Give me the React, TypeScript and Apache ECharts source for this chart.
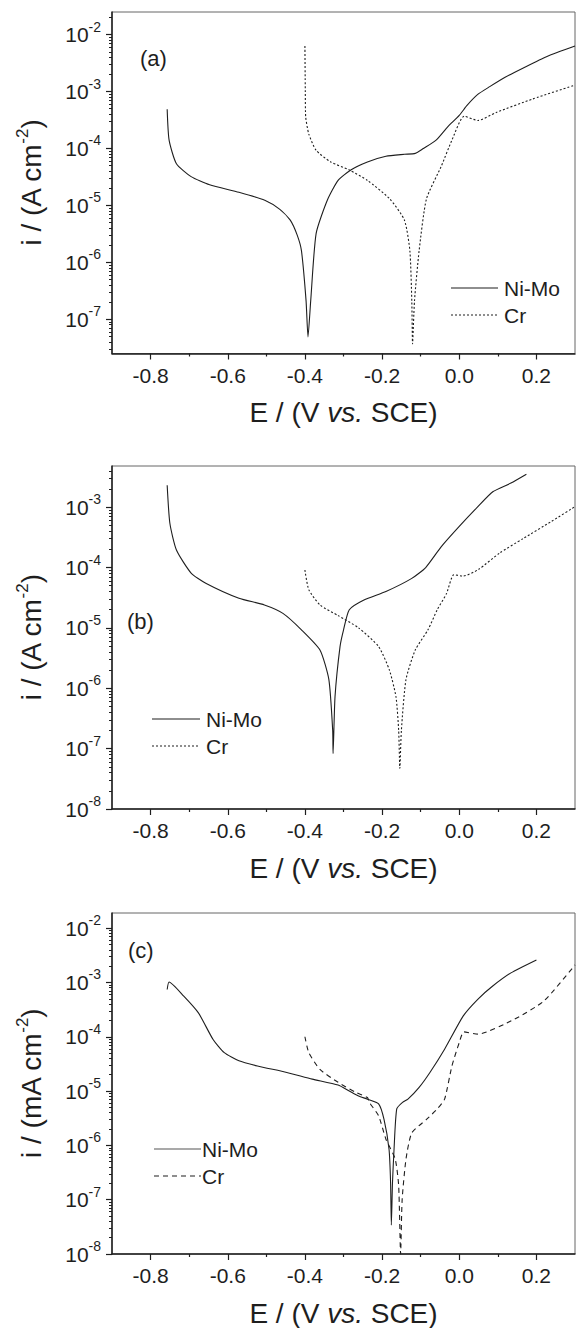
import React, { useEffect, useRef } from "react";
import * as echarts from "echarts";

// ---------- data (E in V vs SCE, i in A cm^-2 or mA cm^-2) ----------
const aNiMoE = [-0.757, -0.752, -0.733, -0.695, -0.647, -0.571, -0.504, -0.465, -0.438, -0.42, -0.409, -0.397, -0.392, -0.385, -0.371, -0.342, -0.314, -0.281, -0.238, -0.19, -0.142, -0.114, -0.093, -0.06, -0.03, 0.0, 0.019, 0.048, 0.079, 0.12, 0.166, 0.226, 0.3];
const aNiMoI = [4.9e-4, 1.4e-4, 5.4e-5, 3.2e-5, 2.3e-5, 1.7e-5, 1.23e-5, 8.5e-6, 5.5e-6, 3.0e-6, 1.6e-6, 2.1e-7, 4.9e-8, 2.1e-7, 3.2e-6, 1.23e-5, 2.75e-5, 4.2e-5, 5.8e-5, 7.3e-5, 7.9e-5, 8.2e-5, 1.0e-4, 1.4e-4, 2.4e-4, 3.8e-4, 5.6e-4, 8.9e-4, 1.22e-3, 1.8e-3, 2.6e-3, 4.1e-3, 6.3e-3];
const aCrE = [-0.4, -0.399, -0.398, -0.39, -0.371, -0.333, -0.285, -0.238, -0.18, -0.142, -0.128, -0.123, -0.121, -0.116, -0.104, -0.085, -0.047, -0.019, 0.013, 0.048, 0.096, 0.19, 0.3];
const aCrI = [6.3e-3, 1.0e-3, 3.6e-4, 1.8e-4, 9.3e-5, 5.8e-5, 4.2e-5, 2.75e-5, 1.3e-5, 5.5e-6, 1.6e-6, 2.1e-7, 3.7e-8, 2.1e-7, 1.6e-6, 1.3e-5, 4.8e-5, 1.4e-4, 3.7e-4, 3.1e-4, 4.3e-4, 7.4e-4, 1.3e-3];

const bNiMoE = [-0.757, -0.75, -0.733, -0.695, -0.657, -0.571, -0.505, -0.457, -0.409, -0.361, -0.338, -0.328, -0.327, -0.322, -0.309, -0.3, -0.285, -0.247, -0.19, -0.123, -0.087, -0.047, 0.0, 0.047, 0.087, 0.134, 0.174];
const bNiMoI = [2.3e-3, 5.4e-4, 1.95e-4, 8.1e-5, 5.5e-5, 3.1e-5, 2.4e-5, 1.74e-5, 9.3e-6, 4.3e-6, 1.4e-6, 2.0e-7, 8.3e-8, 7.2e-7, 4.9e-6, 9.2e-6, 2.0e-5, 2.9e-5, 4.0e-5, 6.6e-5, 1.0e-4, 2.2e-4, 4.8e-4, 1.0e-3, 1.8e-3, 2.5e-3, 3.5e-3];
const bCrE = [-0.4, -0.39, -0.361, -0.314, -0.261, -0.209, -0.181, -0.164, -0.157, -0.154, -0.15, -0.138, -0.114, -0.081, -0.057, -0.033, -0.014, 0.01, 0.05, 0.105, 0.165, 0.239, 0.3];
const bCrI = [9.1e-5, 4.3e-5, 2.4e-5, 1.6e-5, 1.0e-5, 4.9e-6, 2.0e-6, 7.2e-7, 2.0e-7, 4.7e-8, 2.0e-7, 1.4e-6, 4.3e-6, 9.3e-6, 2.0e-5, 3.7e-5, 7.6e-5, 7.2e-5, 9.3e-5, 1.74e-4, 3.0e-4, 5.8e-4, 1.02e-3];

const cNiMoE = [-0.757, -0.752, -0.714, -0.676, -0.638, -0.609, -0.571, -0.523, -0.447, -0.381, -0.314, -0.285, -0.261, -0.238, -0.209, -0.195, -0.182, -0.178, -0.176, -0.173, -0.169, -0.162, -0.147, -0.133, -0.104, -0.076, -0.038, 0.01, 0.048, 0.086, 0.134, 0.2];
const cNiMoI = [7.4e-4, 1.02e-3, 5.6e-4, 2.75e-4, 8.9e-5, 5.1e-5, 3.6e-5, 2.9e-5, 2.2e-5, 1.66e-5, 1.29e-5, 1.0e-5, 8.1e-6, 7.1e-6, 5.8e-6, 3.0e-6, 8.5e-7, 2.1e-7, 3.4e-8, 2.1e-7, 8.5e-7, 4.7e-6, 6.2e-6, 7.1e-6, 1.17e-5, 2.2e-5, 5.9e-5, 2.4e-4, 4.9e-4, 8.5e-4, 1.5e-3, 2.6e-3];
const cCrE = [-0.4, -0.39, -0.361, -0.314, -0.266, -0.238, -0.233, -0.209, -0.19, -0.166, -0.157, -0.152, -0.148, -0.138, -0.123, -0.085, -0.057, -0.038, -0.019, 0.0, 0.012, 0.048, 0.143, 0.22, 0.3];
const cCrI = [1.0e-4, 5.1e-5, 2.5e-5, 1.45e-5, 9.3e-6, 7.6e-6, 6.2e-6, 3.5e-6, 1.3e-6, 5.6e-7, 1.8e-7, 1.0e-8, 1.0e-7, 5.6e-7, 1.7e-6, 3.0e-6, 4.7e-6, 7.1e-6, 2.9e-5, 7.8e-5, 1.23e-4, 1.12e-4, 2.1e-4, 4.6e-4, 2.1e-3];

// ---------- axes ----------
const xMajorTicks = [-0.8, -0.6, -0.4, -0.2, 0.0, 0.2];
const xMinorTicks = [-0.7, -0.5, -0.3, -0.1, 0.1];
const yMajorTicks = [1e-8, 1e-7, 1e-6, 1e-5, 1e-4, 1e-3, 1e-2];
const yMinorMultipliers = [2, 3, 4, 5, 6, 7, 8, 9];
const yMinorDecades = [1e-9, 1e-8, 1e-7, 1e-6, 1e-5, 1e-4, 1e-3, 1e-2];
const yMin = [2.5e-8, 1e-8, 1e-8];
const yMax = [2.5e-2, 4.8e-3, 1.9e-2];
const yTitles = ["i / (A cm", "i / (A cm", "i / (mA cm"];
const panelLabels = ["(a)", "(b)", "(c)"];
const legendNames = ["Ni-Mo", "Cr"];

const FONT = "'Liberation Sans', Arial, Helvetica, sans-serif";
const INK = "#1e1e1e";

const grids = [
  { left: 112, right: 1, top: 12, height: 341.5 },
  { left: 112, right: 1, top: 466, height: 343 },
  { left: 112, right: 1, top: 913, height: 342 },
];
const labelPos = [
  [140, 58],
  [127, 621],
  [128, 950],
];
// legend: [lineX0, lineX1, textX, row1 y, row2 y]
const legendPos = [
  [451, 498, 504, 288, 315],
  [152, 200, 206, 719, 746],
  [154, 201, 202, 1149, 1176],
];
const crDash = [[2, 2], [2, 2], [5, 4]];

export default function App() {
  const ref = useRef<HTMLDivElement>(null);
  useEffect(() => {
    if (!ref.current) return;
    const chart = echarts.init(ref.current, null, { renderer: "svg" });

    const yMinorTicks: number[] = [];
    yMinorDecades.forEach((d) => yMinorMultipliers.forEach((m) => yMinorTicks.push(m * d)));

    const xAxes: any[] = [];
    const yAxes: any[] = [];
    for (let p = 0; p < 3; p++) {
      xAxes.push({
        type: "value",
        gridIndex: p,
        min: -0.9,
        max: 0.3,
        position: "bottom",
        axisLine: { onZero: false, lineStyle: { color: INK, width: 1.5 } },
        axisTick: { customValues: xMajorTicks, length: 6, lineStyle: { color: INK, width: 1.2 } },
        axisLabel: {
          customValues: xMajorTicks,
          formatter: (v: number) => v.toFixed(1),
          margin: 11,
          fontSize: 21,
          color: INK,
          fontFamily: FONT,
        },
        splitLine: { show: false },
        name: "{t|E / (V }{i|vs.}{t| SCE)}",
        nameLocation: "middle",
        nameGap: 45,
        nameTextStyle: {
          fontSize: 28,
          color: INK,
          fontFamily: FONT,
          rich: {
            t: { fontSize: 28, color: INK, fontFamily: FONT },
            i: { fontSize: 28, color: INK, fontFamily: FONT, fontStyle: "italic" },
          },
        },
      });
      yAxes.push({
        type: "log",
        logBase: 10,
        gridIndex: p,
        min: yMin[p],
        max: yMax[p],
        position: "left",
        axisLine: { onZero: false, lineStyle: { color: INK, width: 1.5 } },
        axisTick: { customValues: yMajorTicks, length: 6, lineStyle: { color: INK, width: 1.2 } },
        axisLabel: {
          customValues: yMajorTicks,
          formatter: (v: number) => `{b|10}{s|${Math.round(Math.log10(v))}}`,
          margin: 11,
          fontSize: 21,
          color: INK,
          fontFamily: FONT,
          rich: {
            b: { fontSize: 21, lineHeight: 30, color: INK, fontFamily: FONT },
            s: { fontSize: 14, lineHeight: 14, verticalAlign: "top", color: INK, fontFamily: FONT },
          },
        },
        splitLine: { show: false },
        name: `{t|${yTitles[p]}}{s|-2}{t|)}`,
        nameLocation: "middle",
        nameGap: 64,
        nameTextStyle: {
          fontSize: 28,
          color: INK,
          fontFamily: FONT,
          rich: {
            t: { fontSize: 28, lineHeight: 34, color: INK, fontFamily: FONT },
            s: { fontSize: 17, lineHeight: 17, verticalAlign: "top", color: INK, fontFamily: FONT },
          },
        },
      });
    }
    for (let p = 0; p < 3; p++) {
      xAxes.push({
        type: "value",
        gridIndex: p,
        min: -0.9,
        max: 0.3,
        position: "bottom",
        axisLine: { show: false, onZero: false },
        axisTick: { customValues: xMinorTicks, length: 3, lineStyle: { color: INK, width: 1.2 } },
        axisLabel: { show: false },
        splitLine: { show: false },
      });
      yAxes.push({
        type: "log",
        logBase: 10,
        gridIndex: p,
        min: yMin[p],
        max: yMax[p],
        position: "left",
        axisLine: { show: false, onZero: false },
        axisTick: { customValues: yMinorTicks, length: 3, lineStyle: { color: INK, width: 1 } },
        axisLabel: { show: false },
        splitLine: { show: false },
      });
    }

    const panels = [
      [aNiMoE, aNiMoI, aCrE, aCrI],
      [bNiMoE, bNiMoI, bCrE, bCrI],
      [cNiMoE, cNiMoI, cCrE, cCrI],
    ] as any[];
    const series: any[] = [];
    panels.forEach((pd, p) => {
      const [ne, ni, ce, ci] = pd;
      series.push({
        name: `${legendNames[0]} ${p}`,
        type: "line",
        xAxisIndex: p,
        yAxisIndex: p,
        data: ne.map((e: number, k: number) => [e, ni[k]]),
        symbol: "none",
        showSymbol: false,
        smooth: 0.2,
        lineStyle: { color: INK, width: 1.1 },
      });
      series.push({
        name: `${legendNames[1]} ${p}`,
        type: "line",
        xAxisIndex: p,
        yAxisIndex: p,
        data: ce.map((e: number, k: number) => [e, ci[k]]),
        symbol: "none",
        showSymbol: false,
        smooth: 0.2,
        lineStyle: { color: INK, width: 1.1, type: crDash[p] },
      });
    });

    const graphics: any[] = [];
    panelLabels.forEach((txt, p) => {
      graphics.push({
        type: "text",
        x: labelPos[p][0],
        y: labelPos[p][1],
        style: { text: txt, fontSize: 22, fontFamily: FONT, fill: INK, verticalAlign: "middle", align: "left" },
      });
      const [x0, x1, tx, y1, y2] = legendPos[p];
      graphics.push({
        type: "line",
        shape: { x1: x0, y1: y1, x2: x1, y2: y1 },
        style: { stroke: p === 2 ? "#555" : INK, lineWidth: 1.2 },
      });
      graphics.push({
        type: "line",
        shape: { x1: x0, y1: y2, x2: x1, y2: y2 },
        style: { stroke: INK, lineWidth: 1.2, lineDash: crDash[p] },
      });
      graphics.push({
        type: "text",
        x: tx,
        y: y1,
        style: { text: legendNames[0], fontSize: 21, fontFamily: FONT, fill: INK, verticalAlign: "middle", align: "left" },
      });
      graphics.push({
        type: "text",
        x: tx,
        y: y2,
        style: { text: legendNames[1], fontSize: 21, fontFamily: FONT, fill: INK, verticalAlign: "middle", align: "left" },
      });
    });

    chart.setOption({
      animation: false,
      backgroundColor: "#ffffff",
      grid: grids.map((g) => ({ ...g, show: true, borderColor: "#666", borderWidth: 1, containLabel: false })),
      xAxis: xAxes,
      yAxis: yAxes,
      series,
      graphic: graphics,
    });
    return () => chart.dispose();
  }, []);
  return (
    <div
      ref={ref}
      style={{ position: "fixed", left: 0, top: 0, width: 576, height: 1328, background: "#fff" }}
    />
  );
}
